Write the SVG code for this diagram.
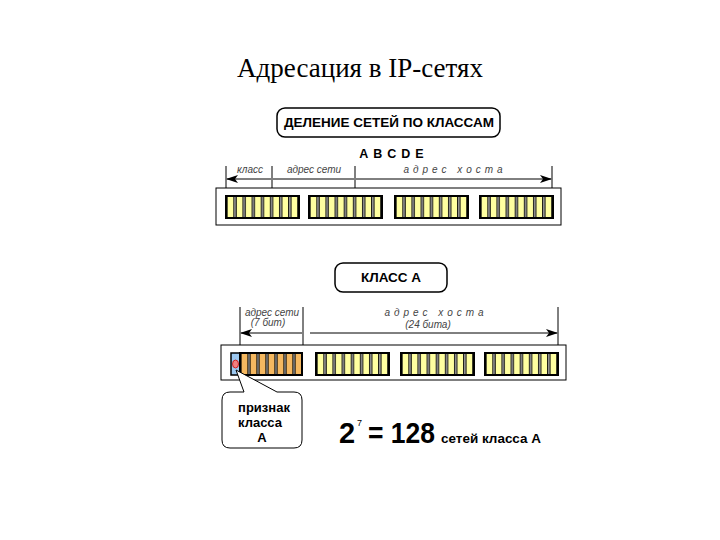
<svg xmlns="http://www.w3.org/2000/svg" width="720" height="540" viewBox="0 0 720 540">
<style>
.s{font-family:"Liberation Sans",Arial,sans-serif}
.b{font-weight:bold}
.it{font-style:italic;font-size:10px;fill:#444}
.ln{stroke:#000;stroke-width:1;fill:none}
</style>
<defs>
<marker id="ah" markerWidth="12" markerHeight="8" refX="11" refY="4" orient="auto-start-reverse" markerUnits="userSpaceOnUse"><path d="M0,0 L12,4 L0,8 L3,4 Z" fill="#000"/></marker>
<pattern id="py" width="9.125" height="30" patternUnits="userSpaceOnUse"><rect x="1" y="0" width="7" height="30" fill="#ffffa0" stroke="#000" stroke-width="1.2"/></pattern>
</defs>
<rect width="720" height="540" fill="#fff"/>
<text x="360" y="77" text-anchor="middle" font-family="Liberation Serif,serif" font-size="27">Адресация в IP-сетях</text>

<g id="title1">
<rect x="277" y="108" width="223" height="29" rx="8" fill="#fff" stroke="#000" stroke-width="1.5"/>
<text x="389" y="127" text-anchor="middle" class="s b" font-size="13.5">ДЕЛЕНИЕ СЕТЕЙ ПО КЛАССАМ</text>
</g>
<text x="394" y="158" text-anchor="middle" class="s b" font-size="12.5" letter-spacing="5">ABCDE</text>

<g id="connectors">
<path class="ln" d="M226,166V195 M272,166V197 M355,166V205 M552,166V195"/>
<path class="ln" d="M227,179H271 M273,179H354 M356,179H551" marker-start="url(#ah)" marker-end="url(#ah)"/>
<path class="ln" d="M240,307V352 M303,307V352 M558,307V350"/>
<path class="ln" d="M241,333H302 M310,333H557" marker-start="url(#ah)" marker-end="url(#ah)"/>
</g>
<text x="250" y="173" text-anchor="middle" class="s it">класс</text>
<text x="314" y="173" text-anchor="middle" class="s it">адрес сети</text>
<text x="455" y="173" text-anchor="middle" class="s it" letter-spacing="4">адрес хоста</text>

<g id="addr1">
<rect x="216" y="188" width="345" height="37" fill="#fff" stroke="#000" stroke-width="1"/>
<g transform="translate(226,196)"><rect width="73" height="22" fill="url(#py)"/><rect width="73" height="22" fill="none" stroke="#000" stroke-width="2"/></g>
<g transform="translate(309,196)"><rect width="73" height="22" fill="url(#py)"/><rect width="73" height="22" fill="none" stroke="#000" stroke-width="2"/></g>
<g transform="translate(395,196)"><rect width="73" height="22" fill="url(#py)"/><rect width="73" height="22" fill="none" stroke="#000" stroke-width="2"/></g>
<g transform="translate(480,196)"><rect width="73" height="22" fill="url(#py)"/><rect width="73" height="22" fill="none" stroke="#000" stroke-width="2"/></g>
</g>

<g id="title2">
<rect x="335" y="263" width="112" height="29" rx="8" fill="#fff" stroke="#000" stroke-width="1.5"/>
<text x="391" y="282" text-anchor="middle" class="s b" font-size="13.5">КЛАСС А</text>
</g>
<text x="272" y="316" text-anchor="middle" class="s it">адрес сети</text>
<text x="268" y="326" text-anchor="middle" class="s it">(7 бит)</text>
<text x="436" y="316" text-anchor="middle" class="s it" letter-spacing="4">адрес хоста</text>
<text x="428" y="328" text-anchor="middle" class="s it">(24 бита)</text>

<g id="addrA">
<rect x="221" y="345" width="345" height="35" fill="#fff" stroke="#000" stroke-width="1"/>
<rect x="231" y="353" width="9" height="22" fill="#9cc8f0" stroke="#000" stroke-width="1.5"/>
<ellipse cx="235.5" cy="364" rx="3" ry="4" fill="#f08080" stroke="#c00" stroke-width="0.8"/>
<g transform="translate(240,353)"><rect width="62" height="22" fill="#fff"/>
<g fill="#f5b860" stroke="#000" stroke-width="1.2"><rect x="1" y="0" width="7" height="22"/><rect x="10" y="0" width="7" height="22"/><rect x="19" y="0" width="7" height="22"/><rect x="28" y="0" width="7" height="22"/><rect x="37" y="0" width="7" height="22"/><rect x="46" y="0" width="7" height="22"/><rect x="55" y="0" width="7" height="22"/></g>
<rect width="62" height="22" fill="none" stroke="#000" stroke-width="2"/></g>
<g transform="translate(316,353)"><rect width="73" height="22" fill="url(#py)"/><rect width="73" height="22" fill="none" stroke="#000" stroke-width="2"/></g>
<g transform="translate(401,353)"><rect width="73" height="22" fill="url(#py)"/><rect width="73" height="22" fill="none" stroke="#000" stroke-width="2"/></g>
<g transform="translate(485,353)"><rect width="73" height="22" fill="url(#py)"/><rect width="73" height="22" fill="none" stroke="#000" stroke-width="2"/></g>
</g>

<g id="callout">
<path d="M230,392 H244 L236,370 L277,392 H294 Q302,392 302,400 V440 Q302,448 294,448 H230 Q222,448 222,440 V400 Q222,392 230,392 Z" fill="#fff" stroke="#000" stroke-width="1"/>
<text x="264" y="412" text-anchor="middle" class="s b" font-size="13">признак</text>
<text x="260" y="427" text-anchor="middle" class="s b" font-size="13">класса</text>
<text x="262" y="442" text-anchor="middle" class="s b" font-size="13">А</text>
</g>

<g id="formula">
<text x="339" y="443" class="s b" font-size="29">2</text>
<text x="357" y="426" class="s" font-size="9">7</text>
<text x="368" y="443" class="s b" font-size="29" textLength="67" lengthAdjust="spacingAndGlyphs">= 128</text>
<text x="441" y="443" class="s b" font-size="13" textLength="100" lengthAdjust="spacingAndGlyphs">сетей класса А</text>
</g>
</svg>
